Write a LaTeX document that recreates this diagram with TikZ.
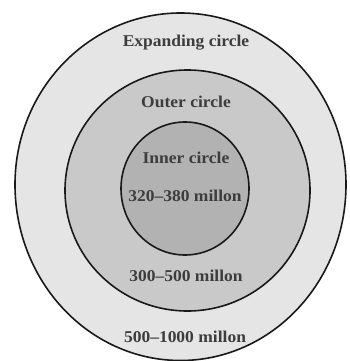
\documentclass[tikz,border=0pt]{standalone}
\usepackage{fontspec}
\setmainfont{Liberation Serif}
\newfontfamily\lblfont[FakeStretch=1.06]{Liberation Serif}
\begin{document}
\begin{tikzpicture}[x=1pt,y=-1pt,
  ring/.style={draw=black!90,line width=1.6pt},
  lbl/.style={text=black!76,font=\lblfont\bfseries\fontsize{16.5}{18}\selectfont,inner sep=0pt,anchor=base}]
\useasboundingbox (0,0) rectangle (349,361);
\fill[white] (0,0) rectangle (349,361);
\begin{scope}
\clip (0,0) rectangle (349,361);
\draw[ring,fill=black!10] (15,184.5)
  arc[start angle=180,end angle=360,x radius=165.5,y radius=171.5]
  arc[start angle=0,end angle=180,x radius=165.5,y radius=176] -- cycle;
\draw[ring,fill=black!21] (187.5,190.5) ellipse[x radius=122.5,y radius=120.5];
\draw[ring,fill=black!30] (185,188.5) ellipse[x radius=64,y radius=66.5];
\end{scope}
\node[lbl] (exp) at (186,47) {Expanding circle};
\node[lbl] (out) at (186,107) {Outer circle};
\node[lbl] (inn) at (186,163) {Inner circle};
\node[lbl] (inm) at (185,201) {320–380 millon};
\node[lbl] (outm) at (186,281) {300–500 millon};
\node[lbl] (expm) at (185,342) {500–1000 millon};
\end{tikzpicture}
\end{document}
